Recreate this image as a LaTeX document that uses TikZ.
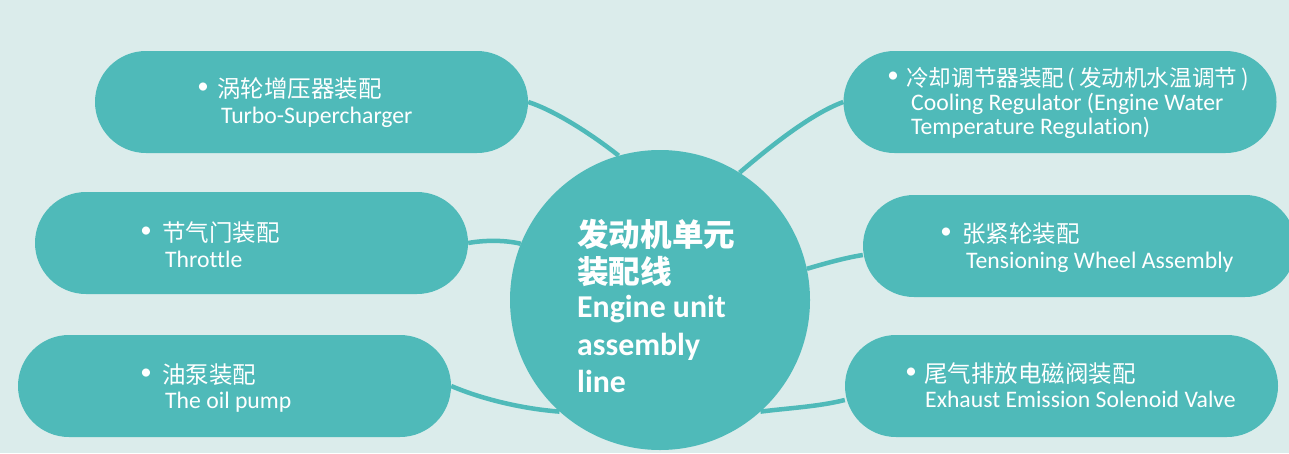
\documentclass[tikz,border=0pt]{standalone}
\usepackage{fontspec}
\setmainfont{Carlito}[RawFeature=-liga]
\newfontfamily\cjk{Noto Sans CJK SC}
\usetikzlibrary{shapes.misc}
\definecolor{bgc}{HTML}{DBECEB}
\definecolor{tealc}{HTML}{4FBAB9}
\pgfdeclarelayer{bglayer}
\pgfdeclarelayer{links}
\pgfsetlayers{bglayer,links,main}
\begin{document}
\begin{tikzpicture}[x=1pt,y=-1pt,
  pill/.style={rounded rectangle, fill=tealc, draw=none, minimum width=433pt, minimum height=102pt, inner sep=0pt},
  link/.style={draw=tealc, line width=4.5pt},
  bul/.style={text=white, inner sep=0pt, font=\fontsize{23}{23}\selectfont},
  zh/.style={text=white, anchor=base west, inner sep=0pt, font=\fontsize{23.5}{28}\selectfont\cjk},
  en/.style={text=white, anchor=base west, inner sep=0pt, font=\fontsize{23.7}{25}\selectfont},
  hubzh/.style={text=white, anchor=base west, inner sep=0pt, font=\fontsize{31.6}{36}\selectfont\cjk\bfseries},
  huben/.style={text=white, anchor=base west, inner sep=0pt, font=\fontsize{31.8}{36}\selectfont\bfseries},
]
\useasboundingbox (0,0) rectangle (1289,453);
\begin{pgfonlayer}{bglayer}
\fill[bgc] (0,0) rectangle (1289,453);
\end{pgfonlayer}

% shapes
\node[pill] (turbo) at (311.5,102) {};
\node[pill] (throttle) at (251.5,243) {};
\node[pill] (oil) at (234.5,386) {};
\node[pill] (cool) at (1060,102) {};
\node[pill] (tension) at (1079.5,246) {};
\node[pill] (exhaust) at (1061.5,386) {};
\node[circle, fill=tealc, minimum size=300pt, inner sep=0pt] (hub) at (660,300) {};

% connectors (under the shapes)
\begin{pgfonlayer}{links}
\draw[link] (turbo.east) .. controls (556,111) and (594,136) .. (hub.106);
\draw[link] (hub.58) .. controls (766,150) and (810,114) .. (cool.west);
\draw[link] (throttle.east) .. controls (485,240) and (505,240) .. (hub.158);
\draw[link] (oil.east) .. controls (484,400) and (525,409) .. (hub.228);
\draw[link] (hub.12) .. controls (825,263.5) and (844,258) .. ([yshift=-9pt]tension.west);
\draw[link] (hub.312) .. controls (789,408) and (818,406.7) .. ([yshift=-14pt]exhaust.west);
\end{pgfonlayer}

% texts
\node[bul] (b1) at (203,88) {•};
\node[zh] (z1) at (217,97) {涡轮增压器装配};
\node[en] (e1) at (221,123) {Turbo-Supercharger};

\node[bul] (b2) at (146,232) {•};
\node[zh] (z2) at (162,241) {节气门装配};
\node[en] (e2) at (165,267) {Throttle};

\node[bul] (b3) at (146,374) {•};
\node[zh] (z3) at (162,383) {油泵装配};
\node[en] (e3) at (165,408) {The oil pump};

\node[bul] (b4) at (893,77) {•};
\node[zh, font=\fontsize{22.6}{28}\selectfont\cjk] (z4) at (906,86) {冷却调节器装配\hspace{3pt}(\hspace{4pt}发动机水温调节\hspace{4pt})};
\node[en] (e4) at (911,110) {Cooling Regulator (Engine Water};
\node[en] (e4b) at (911,134) {Temperature Regulation)};

\node[bul] (b5) at (946,233) {•};
\node[zh] (z5) at (962,242) {张紧轮装配};
\node[en] (e5) at (966,268) {Tensioning Wheel Assembly};

\node[bul] (b6) at (911,373) {•};
\node[zh] (z6) at (924,382) {尾气排放电磁阀装配};
\node[en] (e6) at (925,407) {Exhaust Emission Solenoid Valve};

\node[hubzh] (h1) at (577,246) {发动机单元};
\node[hubzh] (h2) at (577,283) {装配线};
\node[huben] (h3) at (577,317) {Engine unit};
\node[huben] (h4) at (577,355) {assembly};
\node[huben] (h5) at (577,392) {line};
\end{tikzpicture}
\end{document}
